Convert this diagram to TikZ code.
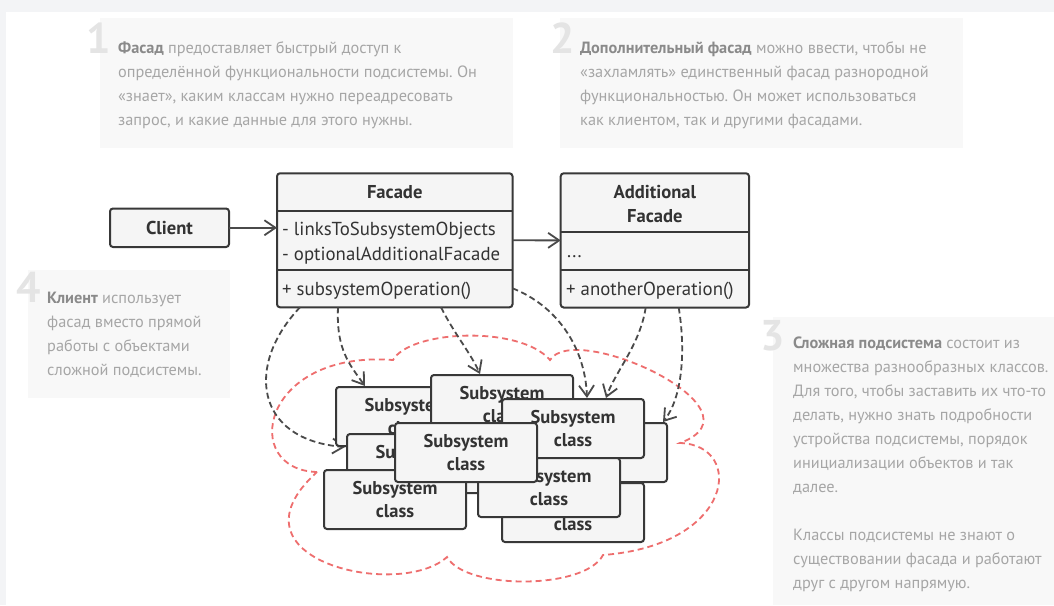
\documentclass[tikz,border=0pt]{standalone}
\usepackage{fontspec}
\setmainfont{PT Sans}
\usetikzlibrary{arrows.meta,calc}
\definecolor{stripgray}{HTML}{F3F4F6}
\definecolor{descbg}{HTML}{F8F8F8}
\definecolor{numcol}{HTML}{E4E4E4}
\definecolor{desctext}{HTML}{A6A6A6}
\definecolor{desctitle}{HTML}{8A8A8A}
\definecolor{boxfill}{HTML}{F5F5F5}
\definecolor{boxdraw}{HTML}{383838}
\definecolor{boxtext}{HTML}{333333}
\definecolor{arrowcol}{HTML}{4A4A4A}
\definecolor{cloudred}{HTML}{EE6E6E}
\newcommand\dtitle[1]{\textbf{\color{desctitle}#1}}
\frenchspacing
\begin{document}
\begin{tikzpicture}[x=1pt,y=-1pt,
  desc/.style={anchor=north west, inner sep=0, align=left, text=desctext, font=\fontsize{16.3}{24}\selectfont},
  num/.style={anchor=base east, inner sep=0, text=numcol, font=\fontsize{43}{43}\selectfont\bfseries},
  uml/.style={draw=boxdraw, fill=boxfill, line width=2pt, rounded corners=3pt, inner sep=0, outer sep=0},
  ssbox/.style={uml, minimum width=142pt, minimum height=59pt, align=center, text=boxtext, font=\fontsize{18.5}{23}\selectfont\bfseries},
  umltext/.style={inner sep=0, anchor=base west, text=boxtext, font=\fontsize{18.8}{20}\selectfont},
  umlbold/.style={inner sep=0, anchor=base, text=boxtext, font=\fontsize{18.6}{20}\selectfont\bfseries},
  divider/.style={draw=boxdraw, line width=2pt},
  link/.style={draw=arrowcol, line width=1.8pt, -{Straight Barb[length=11pt,width=15pt]}},
  dep/.style={link, dash pattern=on 6pt off 3.5pt},
  cloud/.style={draw=cloudred, line width=1.8pt, dash pattern=on 6pt off 4pt}
]
\useasboundingbox (0,0) rectangle (1054,605);
\fill[stripgray] (0,0) rectangle (1054,605);
\fill[white] (6,12) rectangle (1054,605);

% description panels
\fill[descbg] (100,18) rectangle (513,148);
\fill[descbg] (560,18) rectangle (963,148);
\fill[descbg] (28,270) rectangle (230,398);
\fill[descbg] (773,317) rectangle (1054,605);

\node[num] (n1) at (111,53) {1};
\node[num] (n2) at (575,53) {2};
\node[num] (n4) at (41,302) {4};
\node[num] (n3) at (785,350) {3};

\node[desc] (d1) at (118,36.7) {\strut\dtitle{Фасад} предоставляет быстрый доступ к\\определённой функциональности подсистемы. Он\\«знает», каким классам нужно переадресовать\\запрос, и какие данные для этого нужны.};
\node[desc] (d2) at (580,36.7) {\strut\dtitle{Дополнительный фасад} можно ввести, чтобы не\\«захламлять» единственный фасад разнородной\\функциональностью. Он может использоваться\\как клиентом, так и другими фасадами.};
\node[desc] (d4) at (47,286.7) {\strut\dtitle{Клиент} использует\\фасад вместо прямой\\работы с объектами\\сложной подсистемы.};
\node[desc] (d3) at (793,331.7) {\strut\dtitle{Сложная подсистема} состоит из\\множества разнообразных классов.\\Для того, чтобы заставить их что-то\\делать, нужно знать подробности\\устройства подсистемы, порядок\\инициализации объектов и так\\далее.\\\mbox{}\\Классы подсистемы не знают о\\существовании фасада и работают\\друг с другом напрямую.};

% cloud
\draw[cloud] (317,472) .. controls (240,470) and (260,350) .. (393,360)
  .. controls (410,330) and (520,325) .. (550,360)
  .. controls (575,320) and (770,410) .. (680,443)
  .. controls (745,445) and (735,545) .. (603,555)
  .. controls (585,590) and (465,590) .. (447,557)
  .. controls (400,600) and (220,560) .. (317,472) -- cycle;

% UML classes
\node[uml, minimum width=119pt, minimum height=38.5pt, text=boxtext, font=\fontsize{18.6}{20}\selectfont\bfseries] (client) at (169.5,227.75) {Client};

\node[uml, minimum width=235.5pt, minimum height=134pt] (facade) at (394.75,240.3) {};
\draw[divider] (facade.west |- 0,210.7) -- (facade.east |- 0,210.7);
\draw[divider] (facade.west |- 0,269.5) -- (facade.east |- 0,269.5);
\node[umlbold] (facadeT) at (394.75,198) {Facade};
\node[umltext] (facadeA1) at (282,235) {- linksToSubsystemObjects};
\node[umltext] (facadeA2) at (282,260) {- optionalAdditionalFacade};
\node[umltext] (facadeM) at (282,295.5) {+ subsystemOperation()};

\node[uml, minimum width=188.3pt, minimum height=134.2pt] (additional) at (654.85,240.4) {};
\draw[divider] (additional.west |- 0,231.7) -- (additional.east |- 0,231.7);
\draw[divider] (additional.west |- 0,270) -- (additional.east |- 0,270);
\node[umlbold] (addT1) at (654.85,198) {Additional};
\node[umlbold] (addT2) at (654.85,222) {Facade};
\node[umltext] (addA) at (567,257) {...};
\node[umltext] (addM) at (566,295.5) {+ anotherOperation()};

\draw[link] (client.east) -- (client.east -| facade.west);
\draw[link] (facade.east) -- (additional.west);

% positions of the subsystem classes
\path (407,416.5) coordinate (c1) (502,404.5) coordinate (c2) (418,463.5) coordinate (c4)
      (395,499.5) coordinate (c6) (596,452.5) coordinate (c5) (573,512.5) coordinate (c7)
      (573,428.5) coordinate (c3) (549,487.5) coordinate (c8) (466,452.5) coordinate (c9);

% dependency arrows
\draw[dep] ($(facade.south west)+(23,0)$) .. controls (245,365) and (255,440) .. ($(c4)+(-73,-16.5)$);
\draw[dep] ($(facade.south west)+(61,0)$) .. controls (336,350) and (350,365) .. ($(c1)+(-42,-30.5)$);
\draw[dep] ($(facade.south west)+(164,0)$) .. controls (455,335) and (470,352) .. ($(c2)+(-22,-30.5)$);
\draw[dep] ($(facade.east)+(0,48)$) .. controls (555,305) and (585,345) .. ($(c3)+(14,-30.5)$);
\draw[dep] ($(additional.south west)+(85,0)$) .. controls (640,345) and (615,372) .. ($(c3)+(33,-30.5)$);
\draw[dep] ($(additional.south west)+(118,0)$) .. controls (686,352) and (682,398) .. ($(c5)+(67,-30.5)$);

\node[ssbox] (b1) at (c1) {Subsystem\\class};
\node[ssbox] (b2) at (c2) {Subsystem\\class};
\node[ssbox] (b4) at (c4) {Subsystem\\class};
\node[ssbox] (b6) at (c6) {Subsystem\\class};
\node[ssbox] (b5) at (c5) {Subsystem\\class};
\node[ssbox] (b7) at (c7) {Subsystem\\class};
\node[ssbox] (b3) at (c3) {Subsystem\\class};
\node[ssbox] (b8) at (c8) {Subsystem\\class};
\node[ssbox] (b9) at (c9) {Subsystem\\class};
\end{tikzpicture}
\end{document}
